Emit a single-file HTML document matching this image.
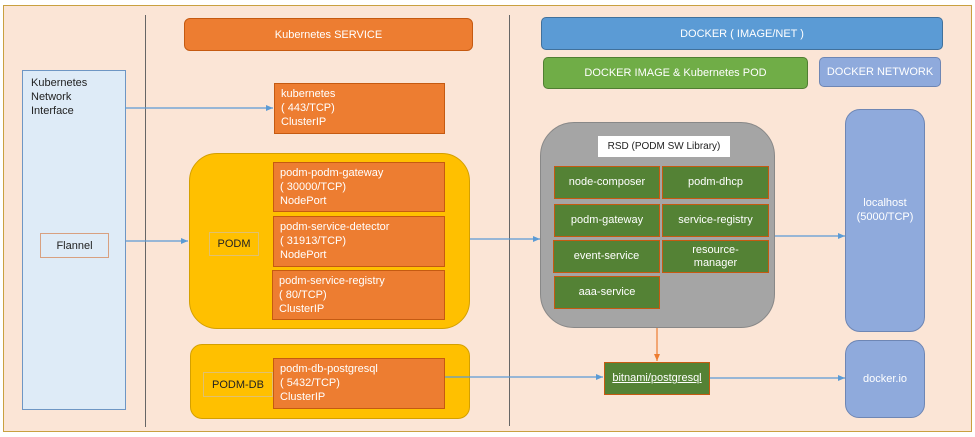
<!DOCTYPE html>
<html><head><style>
body{margin:0;width:975px;height:437px;background:#fff;position:relative;font-family:"Liberation Sans","Noto Sans CJK KR",sans-serif;overflow:hidden}
div{position:absolute;box-sizing:border-box}
.or{background:#ed7d31;border:1px solid #c55a11;color:#fff;font-size:11px;line-height:14px;padding:3px 6px}
.gr{background:#548235;border:1px solid #c55a11;color:#fff;font-size:11px;display:flex;align-items:center;justify-content:center;text-align:center;line-height:13px}
.c{display:flex;align-items:center;justify-content:center;text-align:center}
</style></head><body>
<div style="left:3px;top:5px;width:969px;height:427px;background:#fbe5d6;border:1px solid #c9a040"></div>
<div style="left:145px;top:15px;width:1px;height:412px;background:#666"></div>
<div style="left:509px;top:15px;width:1px;height:411px;background:#666"></div>
<div style="left:22px;top:70px;width:104px;height:340px;background:#deebf7;border:1px solid #6e96c4;font-size:11px;line-height:14px;padding:5px 8px;color:#222">Kubernetes<br>Network<br>Interface</div>
<div class="c" style="left:40px;top:233px;width:69px;height:25px;background:#deebf7;border:1px solid #d8a080;font-size:11px;color:#222">Flannel</div>
<div class="c" style="left:184px;top:18px;width:289px;height:33px;background:#ed7d31;border:1px solid #c55a11;border-radius:6px;color:#fff;font-size:11px">Kubernetes SERVICE</div>
<div class="or" style="left:274px;top:83px;width:171px;height:51px">kubernetes<br>( 443/TCP)<br>ClusterIP</div>
<div style="left:189px;top:153px;width:281px;height:176px;background:#ffc000;border:1px solid #d4a000;border-radius:28px"></div>
<div class="or" style="left:273px;top:162px;width:172px;height:50px">podm-podm-gateway<br>( 30000/TCP)<br>NodePort</div>
<div class="or" style="left:273px;top:216px;width:172px;height:51px">podm-service-detector<br>( 31913/TCP)<br>NodePort</div>
<div class="or" style="left:272px;top:270px;width:173px;height:50px">podm-service-registry<br>( 80/TCP)<br>ClusterIP</div>
<div class="c" style="left:209px;top:232px;width:50px;height:24px;border:1px solid #e0c070;font-size:11px;color:#222">PODM</div>
<div style="left:190px;top:344px;width:280px;height:75px;background:#ffc000;border:1px solid #d4a000;border-radius:12px"></div>
<div class="c" style="left:203px;top:372px;width:70px;height:25px;border:1px solid #e0c070;font-size:11px;color:#222">PODM-DB</div>
<div class="or" style="left:273px;top:358px;width:172px;height:51px">podm-db-postgresql<br>( 5432/TCP)<br>ClusterIP</div>
<div class="c" style="left:541px;top:17px;width:402px;height:33px;background:#5b9bd5;border:1px solid #41719c;border-radius:5px;color:#fff;font-size:11px">DOCKER ( IMAGE/NET )</div>
<div class="c" style="left:543px;top:57px;width:265px;height:32px;background:#70ad47;border:1px solid #507e32;border-radius:5px;color:#fff;font-size:11px">DOCKER IMAGE &amp; Kubernetes POD</div>
<div class="c" style="left:819px;top:57px;width:122px;height:30px;background:#8faadc;border:1px solid #6e86b4;border-radius:5px;color:#fff;font-size:11px">DOCKER NETWORK</div>
<div style="left:540px;top:122px;width:235px;height:206px;background:#a5a5a5;border:1px solid #888;border-radius:34px"></div>
<div class="c" style="left:598px;top:136px;width:132px;height:21px;background:#fff;font-size:10px;color:#222">RSD (PODM SW Library)</div>
<div class="gr" style="left:554px;top:166px;width:106px;height:33px">node-composer</div>
<div class="gr" style="left:662px;top:166px;width:107px;height:33px">podm-dhcp</div>
<div class="gr" style="left:554px;top:204px;width:106px;height:33px">podm-gateway</div>
<div class="gr" style="left:662px;top:204px;width:107px;height:33px">service-registry</div>
<div class="gr" style="left:553px;top:240px;width:107px;height:33px">event-service</div>
<div class="gr" style="left:662px;top:240px;width:107px;height:33px">resource-<br>manager</div>
<div class="gr" style="left:554px;top:276px;width:106px;height:33px">aaa-service</div>
<div class="c" style="left:845px;top:109px;width:80px;height:223px;background:#8faadc;border:1px solid #6e86b4;border-radius:15px;color:#fff;font-size:11px;line-height:14px;padding-bottom:22px">localhost<br>(5000/TCP)</div>
<div class="c" style="left:845px;top:340px;width:80px;height:78px;background:#8faadc;border:1px solid #6e86b4;border-radius:14px;color:#fff;font-size:11px">docker.io</div>
<div class="gr" style="left:604px;top:362px;width:106px;height:33px;text-decoration:underline">bitnami/postgresql</div>
<svg width="975" height="437" style="position:absolute;left:0;top:0">
<defs>
<marker id="b" markerWidth="8" markerHeight="8" refX="7" refY="4" orient="auto" markerUnits="userSpaceOnUse"><path d="M0,1 L7,4 L0,7z" fill="#5b9bd5"/></marker>
<marker id="o" markerWidth="8" markerHeight="8" refX="7" refY="4" orient="auto" markerUnits="userSpaceOnUse"><path d="M0,1 L7,4 L0,7z" fill="#ed7d31"/></marker>
</defs>
<g stroke="#5b9bd5" stroke-width="1.2" fill="none">
<line x1="125" y1="108" x2="273" y2="108" marker-end="url(#b)"/>
<line x1="126" y1="241" x2="188" y2="241" marker-end="url(#b)"/>
<line x1="470" y1="239" x2="540" y2="239" marker-end="url(#b)"/>
<line x1="775" y1="236" x2="845" y2="236" marker-end="url(#b)"/>
<line x1="445" y1="377" x2="603" y2="377" marker-end="url(#b)"/>
<line x1="710" y1="378" x2="845" y2="378" marker-end="url(#b)"/>
</g>
<line x1="657" y1="328" x2="657" y2="361" stroke="#ed7d31" stroke-width="1.2" marker-end="url(#o)"/>
</svg>
</body></html>
